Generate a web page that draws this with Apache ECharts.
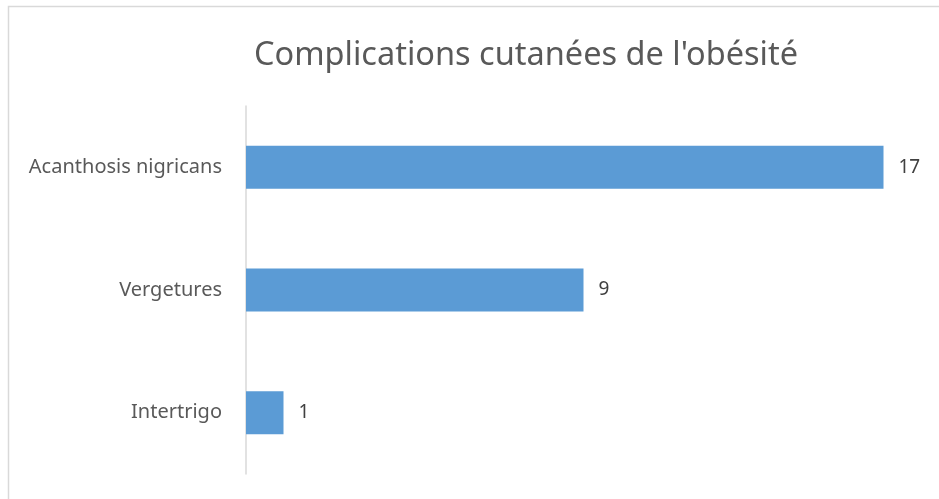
<!DOCTYPE html>
<html>
<head>
    <meta charset="utf-8">
    <title>Complications cutanées</title>
    <script src="https://cdn.jsdelivr.net/npm/echarts@6/dist/echarts.min.js"></script>
    <style>
        html, body { margin: 0; padding: 0; background: #fff; }
    </style>
</head>
<body>
<div id="main" style="width: 939px;height:499px;"></div>

<script type="text/javascript">
    // données
    var categories = ['Acanthosis nigricans', 'Vergetures', 'Intertrigo'];
    var values = [17, 9, 1];

    var myChart = echarts.init(document.getElementById('main'));

    var font = 'Noto Sans';

    option = {
        backgroundColor: '#ffffff',
        animation: false,
        graphic: [{
            type: 'rect',
            shape: { x: 8.5, y: 6.5, width: 940, height: 500 },
            style: { fill: 'none', stroke: '#d9d9d9', lineWidth: 1.5 },
            silent: true
        }],
        title: {
            text: "Complications cutanées de l'obésité",
            left: 521,
            textAlign: 'center',
            top: 34,
            textStyle: {
                color: '#595959',
                fontFamily: font,
                fontSize: 32.5,
                fontWeight: 'normal'
            }
        },
        grid: {
            left: 246,
            top: 106,
            width: 675,
            height: 368,
            containLabel: false
        },
        xAxis: {
            type: 'value',
            min: 0,
            max: 18,
            show: false
        },
        yAxis: {
            type: 'category',
            data: categories,
            inverse: true,
            axisLine: { lineStyle: { color: '#d9d9d9', width: 1.5 } },
            axisTick: { show: false },
            axisLabel: {
                color: '#595959',
                fontFamily: font,
                fontSize: 20,
                margin: 24
            }
        },
        series: [{
            type: 'bar',
            data: values,
            barWidth: 43,
            itemStyle: { color: '#5b9bd5' },
            label: {
                show: true,
                position: 'right',
                distance: 15,
                color: '#404040',
                fontFamily: font,
                fontSize: 19
            }
        }]
    };

    myChart.setOption(option);
</script>
</body>
</html>
